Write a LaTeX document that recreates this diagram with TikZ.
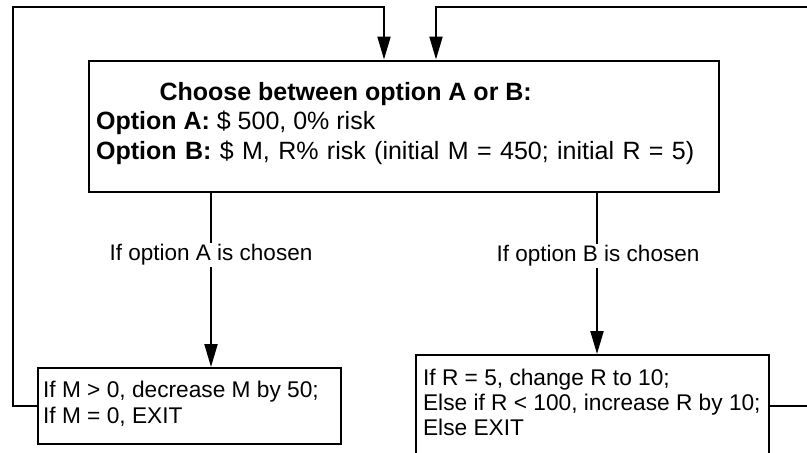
\documentclass[tikz,border=0pt]{standalone}
\usepackage{fontspec}
\setmainfont{Liberation Sans}
\usetikzlibrary{arrows.meta}
\begin{document}
\begin{tikzpicture}[x=1pt,y=-1pt, line width=2.2pt,
  box/.style={draw, line width=2.2pt, inner sep=0pt, anchor=north west},
  lbl/.style={fill=white, inner sep=2pt, font=\fontsize{22.5}{27}\selectfont},
  arr/.style={-{Triangle[length=23pt,width=13pt]}},
  maintxt/.style={anchor=base west, inner sep=0pt, font=\fontsize{25}{30}\selectfont},
  boxtxt/.style={anchor=base west, inner sep=0pt, font=\fontsize{22.7}{27}\selectfont}]
\useasboundingbox (0,0) rectangle (807,453);
\clip (0,0) rectangle (807,453);

% boxes
\node[box, minimum width=630.5pt, minimum height=131.5pt] (main) at (87.5,59.5) {};
\node[box, minimum width=303pt, minimum height=76pt] (boxA) at (37,367) {};
\node[box, minimum width=353pt, minimum height=102pt] (boxB) at (415,354) {};

% texts
\node[maintxt, font=\bfseries\fontsize{25}{30}\selectfont] (t1) at (158.5,100) {Choose between option A or B:};
\node[maintxt] (t2) at (95,129) {\textbf{Option A:} \$ 500, 0\% risk};
\node[maintxt] (t3) at (95,159) {\spaceskip=8.4pt plus 1pt\textbf{Option B:} \$ M, R\% risk (initial M = 450; initial R = 5)};

\node[boxtxt] (a1) at (42,397) {If M > 0, decrease M by 50;};
\node[boxtxt] (a2) at (42,423) {If M = 0, EXIT};

\node[boxtxt] (b1) at (422,385) {If R = 5, change R to 10;};
\node[boxtxt] (b2) at (422,410) {Else if R < 100, increase R by 10;};
\node[boxtxt] (b3) at (422,435) {Else EXIT};

% helper coordinates
\coordinate (xA) at (211,0);
\coordinate (xB) at (597,0);
\coordinate (xL) at (384,0);
\coordinate (xR) at (436,0);
\coordinate (cTL) at (13,7);
\coordinate (cTR) at (815,7);

% connectors
\draw[arr] (main.south -| xA) -- (boxA.north -| xA);
\node[lbl] (lA) at (211,255) {If option A is chosen};
\draw[arr] (main.south -| xB) -- (boxB.north -| xB);
\node[lbl] (lB) at (598,256) {If option B is chosen};

\draw[arr] (boxA.west) -| (cTL) -| (main.north -| xL);
\draw[arr] (boxB.east) -| (cTR) -| (main.north -| xR);
\end{tikzpicture}
\end{document}
